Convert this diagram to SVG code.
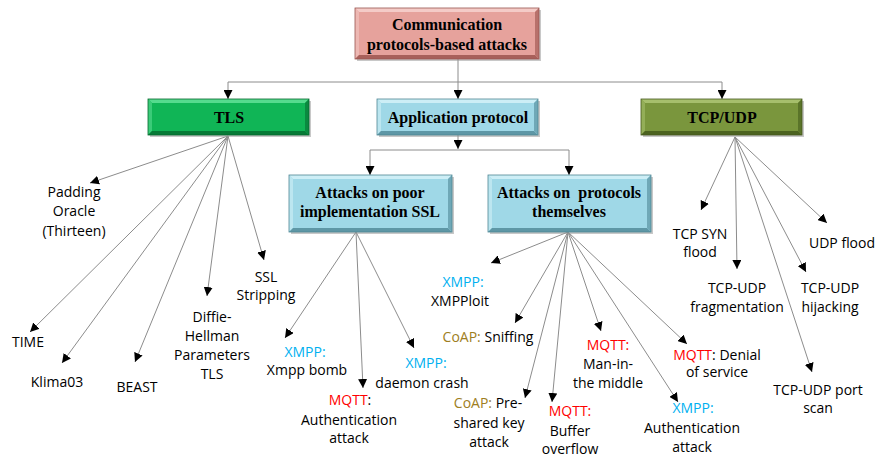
<svg xmlns="http://www.w3.org/2000/svg" width="875" height="457" viewBox="0 0 875 457">
<defs>
<marker id="ah" markerUnits="userSpaceOnUse" markerWidth="9" markerHeight="9" viewBox="0 0 10 10" refX="10" refY="5" orient="auto">
<path d="M0,0 L10,5 L0,10 Z" fill="#000"/>
</marker>
</defs>
<style>
.cn{fill:none;stroke:#8c8c8c;stroke-width:1;marker-end:url(#ah)}
.ln{fill:none;stroke:#8c8c8c;stroke-width:1}
.bt{font-family:"Liberation Serif","Times New Roman",serif;font-weight:bold;font-size:16px;fill:#000;text-anchor:middle}
.lb{font-family:"Open Sans","Liberation Sans",sans-serif;font-size:14px;fill:#000;text-anchor:middle}
.x{fill:#00B0F0}.m{fill:#FF0000}.c{fill:#9E7E22}
.sh{fill:#9a9a9a;opacity:0.55}
</style>
<g id="connectors">
<path class="ln" d="M458,59 V82 M228,82 H722"/>
<path class="cn" d="M228,82 V99"/>
<path class="cn" d="M458,82 V99"/>
<path class="cn" d="M722,82 V99"/>
<path class="cn" d="M458,135 V149"/>
<path class="ln" d="M370,150 H569"/>
<path class="cn" d="M370,150 V175"/>
<path class="cn" d="M569,150 V175"/>
<path class="cn" d="M228,136 L90,183"/>
<path class="cn" d="M228,136 L30,332"/>
<path class="cn" d="M228,136 L62,363"/>
<path class="cn" d="M228,136 L135,362"/>
<path class="cn" d="M228,136 L207,296"/>
<path class="cn" d="M228,136 L264,260"/>
<path class="cn" d="M356,232 L285,338"/>
<path class="cn" d="M356,232 L363,388"/>
<path class="cn" d="M356,232 L414,348"/>
<path class="cn" d="M568,232 L491,263"/>
<path class="cn" d="M568,232 L515,323"/>
<path class="cn" d="M568,232 L525,398"/>
<path class="cn" d="M568,232 L552,402"/>
<path class="cn" d="M568,232 L601,331"/>
<path class="cn" d="M568,232 L678,402"/>
<path class="cn" d="M568,232 L687,344"/>
<path class="cn" d="M735,137 L701,210"/>
<path class="cn" d="M735,137 L737,269"/>
<path class="cn" d="M735,137 L806,272"/>
<path class="cn" d="M735,137 L827,223"/>
<path class="cn" d="M735,137 L812,372"/>
</g>
<g id="root">
<rect class="sh" x="357" y="10" width="184" height="51"/>
<rect x="355" y="8" width="184" height="51" fill="#E6A29C"/>
<polygon points="355,8 539,8 535,12 359,12" fill="#F4CBC7"/>
<polygon points="355,8 359,12 359,55 355,59" fill="#EDB8B3"/>
<polygon points="355,59 359,55 535,55 539,59" fill="#A8605A"/>
<polygon points="539,8 539,59 535,55 535,12" fill="#B8716B"/>
<rect x="355" y="8" width="184" height="51" fill="none" stroke="#9A5550" stroke-width="0.8"/>
<text class="bt" x="447" y="30">Communication</text>
<text class="bt" x="447" y="50">protocols-based attacks</text>
</g>
<g id="tls">
<rect class="sh" x="150" y="101" width="161" height="36"/>
<rect x="148" y="99" width="161" height="36" fill="#10B556"/>
<polygon points="148,99 309,99 305,103 152,103" fill="#55DB8E"/>
<polygon points="148,99 152,103 152,131 148,135" fill="#3ACB78"/>
<polygon points="148,135 152,131 305,131 309,135" fill="#067A36"/>
<polygon points="309,99 309,135 305,131 305,103" fill="#0A8A40"/>
<rect x="148" y="99" width="161" height="36" fill="none" stroke="#06682E" stroke-width="0.8"/>
<text class="bt" x="229" y="123">TLS</text>
</g>
<g id="app">
<rect class="sh" x="379" y="101" width="161" height="36"/>
<rect x="377" y="99" width="161" height="36" fill="#9FD8E7"/>
<polygon points="377,99 538,99 534,103 381,103" fill="#CDEEF6"/>
<polygon points="377,99 381,103 381,131 377,135" fill="#BCE6F0"/>
<polygon points="377,135 381,131 534,131 538,135" fill="#5E97A6"/>
<polygon points="538,99 538,135 534,131 534,103" fill="#6FA8B7"/>
<rect x="377" y="99" width="161" height="36" fill="none" stroke="#4F8795" stroke-width="0.8"/>
<text class="bt" x="458" y="123">Application protocol</text>
</g>
<g id="tcpudp">
<rect class="sh" x="643" y="101" width="161" height="36"/>
<rect x="641" y="99" width="161" height="36" fill="#7A963D"/>
<polygon points="641,99 802,99 798,103 645,103" fill="#A6BF6C"/>
<polygon points="641,99 645,103 645,131 641,135" fill="#93AE58"/>
<polygon points="641,135 645,131 798,131 802,135" fill="#4C6320"/>
<polygon points="802,99 802,135 798,131 798,103" fill="#5A7429"/>
<rect x="641" y="99" width="161" height="36" fill="none" stroke="#46591E" stroke-width="0.8"/>
<text class="bt" x="722" y="123">TCP/UDP</text>
</g>
<g id="poor">
<rect class="sh" x="291" y="177" width="163" height="57"/>
<rect x="289" y="175" width="163" height="57" fill="#9FD8E7"/>
<polygon points="289,175 452,175 448,179 293,179" fill="#CDEEF6"/>
<polygon points="289,175 293,179 293,228 289,232" fill="#BCE6F0"/>
<polygon points="289,232 293,228 448,228 452,232" fill="#5E97A6"/>
<polygon points="452,175 452,232 448,228 448,179" fill="#6FA8B7"/>
<rect x="289" y="175" width="163" height="57" fill="none" stroke="#4F8795" stroke-width="0.8"/>
<text class="bt" x="370" y="198">Attacks on poor</text>
<text class="bt" x="370" y="217">implementation SSL</text>
</g>
<g id="themselves">
<rect class="sh" x="490" y="177" width="163" height="57"/>
<rect x="488" y="175" width="163" height="57" fill="#9FD8E7"/>
<polygon points="488,175 651,175 647,179 492,179" fill="#CDEEF6"/>
<polygon points="488,175 492,179 492,228 488,232" fill="#BCE6F0"/>
<polygon points="488,232 492,228 647,228 651,232" fill="#5E97A6"/>
<polygon points="651,175 651,232 647,228 647,179" fill="#6FA8B7"/>
<rect x="488" y="175" width="163" height="57" fill="none" stroke="#4F8795" stroke-width="0.8"/>
<text class="bt" x="569" y="198" xml:space="preserve">Attacks on  protocols</text>
<text class="bt" x="569" y="217">themselves</text>
</g>
<g id="padding-oracle"><text class="lb" x="74" y="197">Padding</text><text class="lb" x="74" y="216">Oracle</text><text class="lb" x="74" y="236">(Thirteen)</text></g>
<g id="ssl-stripping"><text class="lb" x="266" y="282">SSL</text><text class="lb" x="266" y="300">Stripping</text></g>
<g id="diffie-hellman"><text class="lb" x="212" y="322">Diffie-</text><text class="lb" x="212" y="341">Hellman</text><text class="lb" x="212" y="360">Parameters</text><text class="lb" x="212" y="379">TLS</text></g>
<g id="time"><text class="lb" x="28" y="347">TIME</text></g>
<g id="klima03"><text class="lb" x="57" y="387">Klima03</text></g>
<g id="beast"><text class="lb" x="137" y="392">BEAST</text></g>
<g id="xmpp-bomb"><text class="lb x" x="305" y="357">XMPP:</text><text class="lb" x="307" y="375">Xmpp bomb</text></g>
<g id="mqtt-auth-1"><text class="lb" x="350" y="405"><tspan class="m">MQTT</tspan>:</text><text class="lb" x="349" y="425">Authentication</text><text class="lb" x="349" y="443">attack</text></g>
<g id="xmpp-daemon"><text class="lb x" x="426" y="368">XMPP:</text><text class="lb" x="422" y="388">daemon crash</text></g>
<g id="xmppploit"><text class="lb x" x="463" y="287">XMPP:</text><text class="lb" x="460" y="306">XMPPloit</text></g>
<g id="coap-sniffing"><text class="lb" x="488" y="342"><tspan class="c">CoAP:</tspan> Sniffing</text></g>
<g id="coap-psk"><text class="lb" x="488" y="408"><tspan class="c">CoAP:</tspan> Pre-</text><text class="lb" x="489" y="428">shared key</text><text class="lb" x="489" y="447">attack</text></g>
<g id="mqtt-buffer"><text class="lb m" x="570" y="416">MQTT:</text><text class="lb" x="570" y="436">Buffer</text><text class="lb" x="570" y="454">overflow</text></g>
<g id="mqtt-mitm"><text class="lb m" x="608" y="350">MQTT:</text><text class="lb" x="608" y="369">Man-in-</text><text class="lb" x="608" y="388">the middle</text></g>
<g id="xmpp-auth"><text class="lb x" x="693" y="413">XMPP:</text><text class="lb" x="692" y="433">Authentication</text><text class="lb" x="692" y="452">attack</text></g>
<g id="mqtt-dos"><text class="lb" x="717" y="360"><tspan class="m">MQTT</tspan>: Denial</text><text class="lb" x="717" y="377">of service</text></g>
<g id="tcp-syn"><text class="lb" x="700" y="239">TCP SYN</text><text class="lb" x="700" y="257">flood</text></g>
<g id="udp-flood"><text class="lb" x="842" y="248">UDP flood</text></g>
<g id="tcp-frag"><text class="lb" x="737" y="293">TCP-UDP</text><text class="lb" x="737" y="312">fragmentation</text></g>
<g id="tcp-hijack"><text class="lb" x="830" y="293">TCP-UDP</text><text class="lb" x="830" y="312">hijacking</text></g>
<g id="tcp-portscan"><text class="lb" x="818" y="395">TCP-UDP port</text><text class="lb" x="818" y="413">scan</text></g>
</svg>
